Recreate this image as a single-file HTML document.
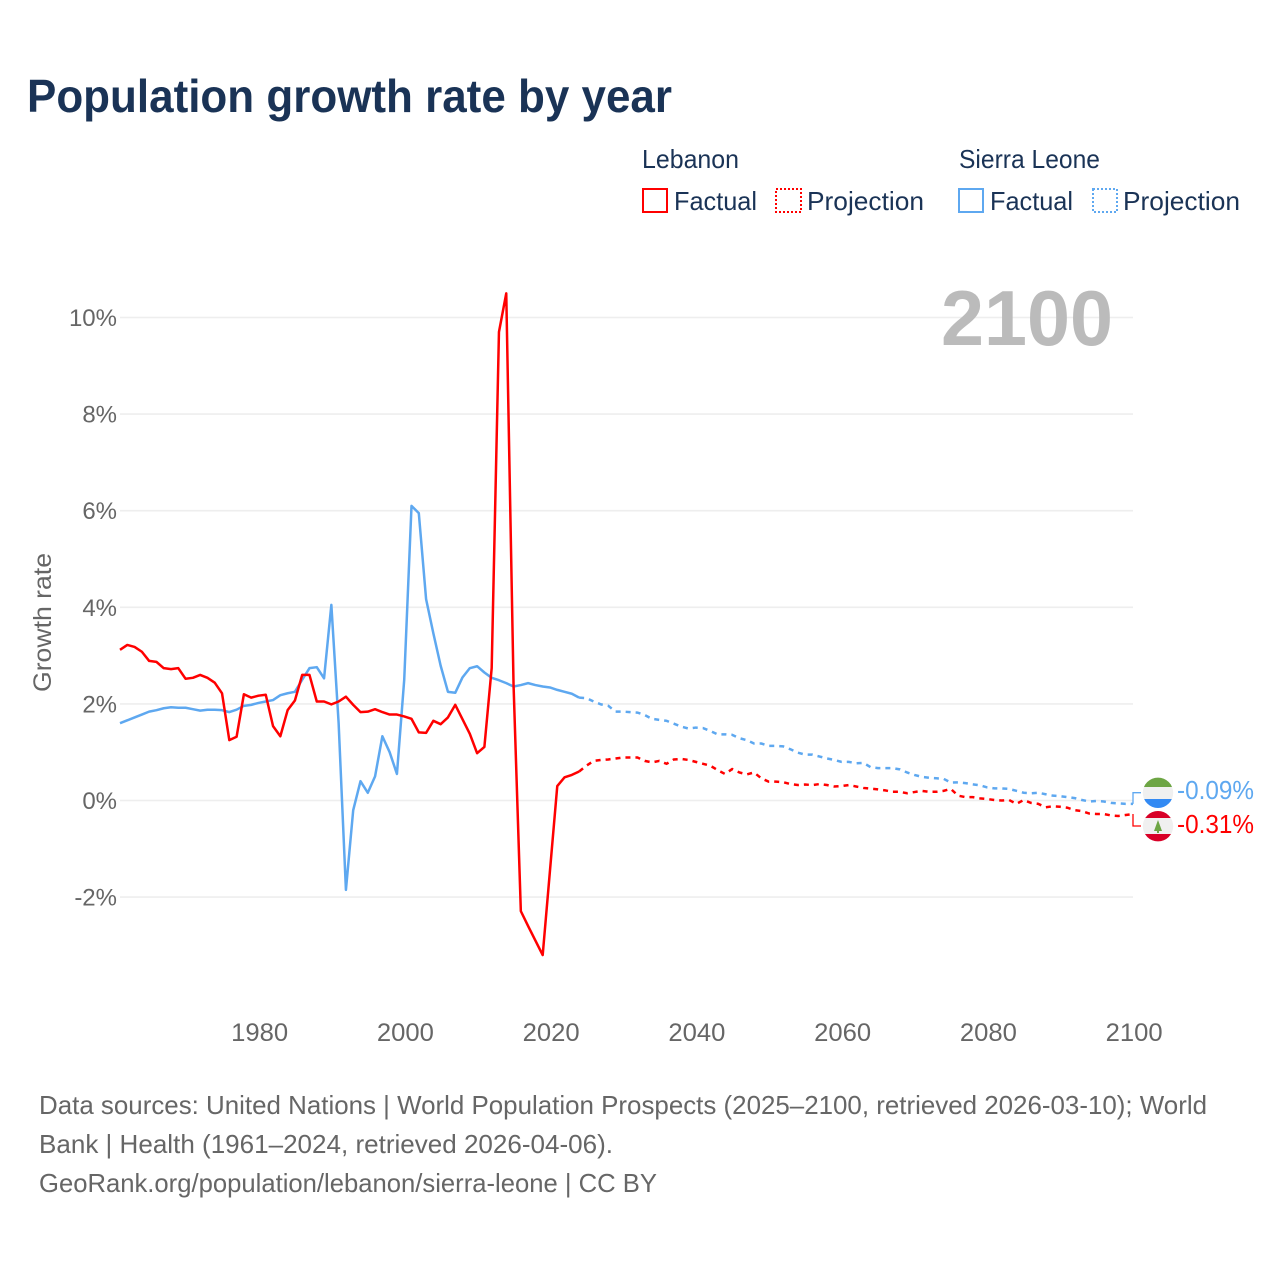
<!DOCTYPE html>
<html lang="en">
<head>
<meta charset="utf-8">
<title>Population growth rate by year</title>
<style>
  html, body { margin: 0; padding: 0; background: #fff; }
  svg { display: block; font-family: "Liberation Sans", sans-serif; }
</style>
</head>
<body>
<svg id="chart" xmlns="http://www.w3.org/2000/svg" width="1280" height="1280" viewBox="0 0 1280 1280">
  <rect width="1280" height="1280" fill="#ffffff"/>
  <text x="27" y="112" font-size="46" font-weight="700" fill="#1a3356" textLength="645" lengthAdjust="spacingAndGlyphs">Population growth rate by year</text>

  <g font-size="26" fill="#1a3356">
    <text x="642" y="168" textLength="97" lengthAdjust="spacingAndGlyphs">Lebanon</text>
    <text x="959" y="168" textLength="141" lengthAdjust="spacingAndGlyphs">Sierra Leone</text>
    <g>
      <rect x="643" y="189" width="24" height="23" fill="none" stroke="#ff0000" stroke-width="2"/>
      <text x="674" y="210" textLength="83" lengthAdjust="spacingAndGlyphs">Factual</text>
    </g>
    <g>
      <rect x="776" y="189" width="25" height="23" fill="none" stroke="#ff0000" stroke-width="2" stroke-dasharray="2 2"/>
      <text x="807" y="210" textLength="117" lengthAdjust="spacingAndGlyphs">Projection</text>
    </g>
    <g>
      <rect x="959" y="189" width="24" height="23" fill="none" stroke="#5ea8f0" stroke-width="2"/>
      <text x="990" y="210" textLength="83" lengthAdjust="spacingAndGlyphs">Factual</text>
    </g>
    <g>
      <rect x="1093" y="189" width="24" height="23" fill="none" stroke="#5ea8f0" stroke-width="2" stroke-dasharray="2 2"/>
      <text x="1123" y="210" textLength="117" lengthAdjust="spacingAndGlyphs">Projection</text>
    </g>
  </g>

  <g id="grid"></g>
  <g id="y-ticks"></g>
  <g id="x-ticks"></g>
  <text transform="translate(51 692) rotate(-90)" font-size="25" fill="#666666" textLength="139" lengthAdjust="spacingAndGlyphs">Growth rate</text>
  <text x="941" y="345" font-size="78" font-weight="700" fill="#bbbbbb" textLength="172" lengthAdjust="spacingAndGlyphs">2100</text>

  <g id="series"></g>

  <defs>
    <clipPath id="flag-clip-sl"><circle cx="1158" cy="792.8" r="15.2"/></clipPath>
    <clipPath id="flag-clip-lb"><circle cx="1158" cy="826.2" r="15.2"/></clipPath>
  </defs>
  <g clip-path="url(#flag-clip-sl)">
    <rect x="1142" y="777" width="32" height="10" fill="#6da544"/>
    <rect x="1142" y="787" width="32" height="12" fill="#f0f0f0"/>
    <rect x="1142" y="799" width="32" height="10" fill="#338af3"/>
  </g>
  <g clip-path="url(#flag-clip-lb)">
    <rect x="1142" y="810" width="32" height="8" fill="#d80027"/>
    <rect x="1142" y="818" width="32" height="16" fill="#f0f0f0"/>
    <rect x="1142" y="834" width="32" height="9" fill="#d80027"/>
    <polygon points="1158,820 1162,831 1159,831 1159,833 1157,833 1157,831 1154,831" fill="#6da544"/>
  </g>
  <g id="end-labels"></g>

  <g font-size="26" fill="#666666">
    <text x="39" y="1114" textLength="1168" lengthAdjust="spacingAndGlyphs">Data sources: United Nations | World Population Prospects (2025–2100, retrieved 2026-03-10); World</text>
    <text x="39" y="1153" textLength="574" lengthAdjust="spacingAndGlyphs">Bank | Health (1961–2024, retrieved 2026-04-06).</text>
    <text x="39" y="1192" textLength="618" lengthAdjust="spacingAndGlyphs">GeoRank.org/population/lebanon/sierra-leone | CC BY</text>
  </g>
</svg>

<script>
const factualStartYear = 1961;
const projectionStartYear = 2024;
const xTickYears = [1980, 2000, 2020, 2040, 2060, 2080, 2100];
const yTickValues = [-2, 0, 2, 4, 6, 8, 10];
const yTickLabels = ['-2%', '0%', '2%', '4%', '6%', '8%', '10%'];

const lebanonFactual = [
  3.12,3.22,3.18,3.08,2.89,2.87,2.74,2.72,2.74,2.52,
  2.54,2.60,2.54,2.44,2.22,1.25,1.32,2.20,2.13,2.17,
  2.19,1.54,1.33,1.87,2.07,2.60,2.60,2.05,2.05,1.99,
  2.05,2.15,1.98,1.83,1.84,1.89,1.83,1.78,1.78,1.74,
  1.69,1.41,1.40,1.65,1.58,1.72,1.98,1.68,1.38,0.98,
  1.11,2.74,9.70,10.50,2.40,-2.29,-2.60,-2.90,-3.20,-1.45,
  0.30,0.48,0.53,0.60
];
const sierraLeoneFactual = [
  1.60,1.66,1.72,1.78,1.84,1.87,1.91,1.93,1.92,1.92,
  1.89,1.86,1.88,1.88,1.87,1.83,1.88,1.96,1.98,2.02,
  2.05,2.08,2.18,2.22,2.25,2.50,2.74,2.76,2.53,4.05,
  1.60,-1.85,-0.20,0.40,0.16,0.50,1.33,1.00,0.55,2.50,
  6.10,5.95,4.17,3.46,2.79,2.25,2.23,2.55,2.74,2.78,
  2.65,2.54,2.49,2.43,2.36,2.39,2.43,2.39,2.36,2.34,
  2.29,2.25,2.21,2.13
];
const lebanonProjection = [
  0.60,0.72,0.82,0.84,0.85,0.87,0.89,0.89,0.89,0.82,
  0.79,0.82,0.76,0.85,0.86,0.84,0.80,0.76,0.72,0.63,
  0.55,0.65,0.58,0.54,0.58,0.46,0.39,0.39,0.38,0.34,
  0.32,0.33,0.32,0.34,0.32,0.29,
  0.30,0.32,0.29,0.26,0.245,0.23,0.21,0.18,0.18,0.15,
  0.175,0.20,0.18,0.18,0.20,0.24,0.10,0.07,0.07,0.045,
  0.03,0.01,0,0.01,-0.07,0.01,-0.05,-0.07,-0.14,-0.12,
  -0.13,-0.15,-0.20,-0.22,-0.27,-0.28,-0.28,-0.31,-0.32,-0.30,-0.28
];
const sierraLeoneProjection = [
  2.13,2.12,2.05,1.99,1.96,1.84,1.84,1.83,1.82,1.77,
  1.69,1.67,1.65,1.59,1.53,1.49,1.51,1.50,1.44,1.37,
  1.37,1.36,1.29,1.25,1.18,1.18,1.13,1.13,1.12,1.06,
  0.99,0.95,0.95,0.91,0.87,0.84,
  0.80,0.80,0.77,0.78,0.69,0.67,0.67,0.67,0.645,0.58,
  0.53,0.49,0.47,0.46,0.45,0.37,0.375,0.36,0.335,0.315,
  0.27,0.25,0.25,0.24,0.20,0.16,0.15,0.16,0.13,0.10,
  0.09,0.07,0.05,0.01,-0.02,-0.01,-0.02,-0.05,-0.06,-0.07,-0.07
];
const endLabelText = ['-0.09%', '-0.31%'];

const SVG_NS = 'http://www.w3.org/2000/svg';
const X_LEFT = 120, X_RIGHT = 1133, Y_ZERO = 800.5, Y_PER_UNIT = 48.3;
function xScale(year) {
  return X_LEFT + (year - factualStartYear) * (X_RIGHT - X_LEFT) / (2100 - factualStartYear);
}
function yScale(value) {
  return Y_ZERO - value * Y_PER_UNIT;
}
function make(tag, parent, attrs) {
  const el = document.createElementNS(SVG_NS, tag);
  for (const k in attrs) el.setAttribute(k, attrs[k]);
  parent.appendChild(el);
  return el;
}
function linePath(values, startYear) {
  return values.map((v, i) => (i ? 'L' : 'M') + xScale(startYear + i).toFixed(2) + ' ' + yScale(v).toFixed(2)).join(' ');
}

const gridGroup = document.getElementById('grid');
const yTickGroup = document.getElementById('y-ticks');
yTickValues.forEach((v, i) => {
  const gridLine = make('line', gridGroup, { x1: X_LEFT, x2: X_RIGHT, y1: yScale(v), y2: yScale(v), stroke: '#eeeeee', 'stroke-width': 1.6 });
  
  
  const tick = make('text', yTickGroup, { x: 117, y: yScale(v) + 8.5, 'text-anchor': 'end', 'font-size': 24, fill: '#666666' });
  
  
  tick.textContent = yTickLabels[i];
});

const xTickGroup = document.getElementById('x-ticks');
xTickYears.forEach((year) => {
  const tick = make('text', xTickGroup, { x: xScale(year) + 1.2, y: 1041, 'text-anchor': 'middle', 'font-size': 25, fill: '#666666', textLength: 57, lengthAdjust: 'spacingAndGlyphs' });
  
  
  tick.textContent = String(year);
});

const seriesGroup = document.getElementById('series');
const RED = '#ff0000', BLUE = '#5ea8f0';

const sierraFactualLine = make('path', seriesGroup, { d: linePath(sierraLeoneFactual, factualStartYear), fill: 'none', stroke: BLUE, 'stroke-width': 2.5, 'stroke-linejoin': 'round' });



const lebanonFactualLine = make('path', seriesGroup, { d: linePath(lebanonFactual, factualStartYear), fill: 'none', stroke: RED, 'stroke-width': 2.5, 'stroke-linejoin': 'round' });



const sierraProjectionLine = make('path', seriesGroup, { d: linePath(sierraLeoneProjection, projectionStartYear), fill: 'none', stroke: BLUE, 'stroke-width': 2.5, 'stroke-dasharray': '5 5' });



const lebanonProjectionLine = make('path', seriesGroup, { d: linePath(lebanonProjection, projectionStartYear), fill: 'none', stroke: RED, 'stroke-width': 2.5, 'stroke-dasharray': '5 5' });



const sierraLast = sierraLeoneProjection[sierraLeoneProjection.length - 1];
const lebanonLast = lebanonProjection[lebanonProjection.length - 1];

const sierraConnector = make('path', seriesGroup, { d: 'M' + xScale(2100) + ' ' + yScale(sierraLast) + ' V792.7 H1141', fill: 'none', stroke: BLUE, 'stroke-width': 1.3 });



const lebanonConnector = make('path', seriesGroup, { d: 'M' + xScale(2100) + ' ' + yScale(lebanonLast) + ' V826 H1141', fill: 'none', stroke: RED, 'stroke-width': 1.3 });



const endLabels = document.getElementById('end-labels');
const sierraEnd = make('text', endLabels, { x: 1177, y: 799, 'font-size': 26, fill: BLUE, textLength: 77, lengthAdjust: 'spacingAndGlyphs' });


sierraEnd.textContent = endLabelText[0];

const lebanonEnd = make('text', endLabels, { x: 1177, y: 833, 'font-size': 26, fill: RED, textLength: 77, lengthAdjust: 'spacingAndGlyphs' });


lebanonEnd.textContent = endLabelText[1];
</script>
</body>
</html>
